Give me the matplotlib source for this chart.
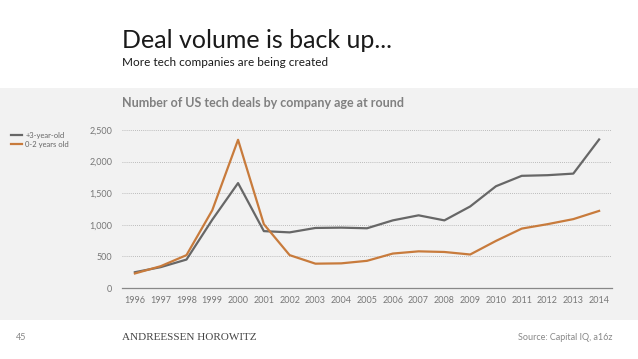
import matplotlib
matplotlib.use('Agg')
from matplotlib import pyplot as plt
from matplotlib.patches import Rectangle
from matplotlib.lines import Line2D

plt.rcParams['font.family'] = ['Lato', 'DejaVu Sans']

years = list(range(1996, 2015))
older = [250, 330, 450, 1080, 1660, 900, 880, 950, 955, 945, 1070, 1150, 1070, 1290, 1610, 1775, 1785, 1810, 2350]
younger = [230, 345, 520, 1230, 2345, 1010, 520, 385, 390, 430, 545, 580, 570, 530, 745, 940, 1010, 1090, 1220]
y_ticks = [0, 500, 1000, 1500, 2000, 2500]
series_labels = ['+3-year-old', '0-2 years old']

W, H = 638, 359
fig = plt.figure(figsize=(W / 100, H / 100), dpi=100)
fig.patch.set_facecolor('white')

# grey background band
fig.patches.append(Rectangle((0, 1 - 320 / H), 1, (320 - 88) / H,
                             transform=fig.transFigure, facecolor='#f2f2f2',
                             edgecolor='none', zorder=-5))

ax = fig.add_axes([122 / W, 1 - 288 / H, (612 - 122) / W, (288 - 130) / H])
ax.set_facecolor('none')

grey = '#676767'
orange = '#c87b3c'
ax.plot(years, older, color=grey, lw=1.6, clip_on=False, zorder=3)
ax.plot(years, younger, color=orange, lw=1.6, clip_on=False, zorder=3)

ax.set_xlim(1995.5, 2014.5)
ax.set_ylim(0, 2500)
ax.set_xticks(years)
ax.set_xticklabels([str(y) for y in years])
ax.set_yticks(y_ticks)
ax.set_yticklabels(['{:,}'.format(v) for v in y_ticks])
ax.tick_params(length=0, labelsize=6.5, colors='#777777', pad=6)
ax.tick_params(axis='y', pad=7)

for v in y_ticks[1:]:
    ax.axhline(v, color='#aaaaaa', lw=0.6, ls=(0, (1, 1.5)), zorder=1)

for s in ['top', 'right', 'left']:
    ax.spines[s].set_visible(False)
ax.spines['bottom'].set_color('#888888')
ax.spines['bottom'].set_linewidth(0.9)

# titles
fig.text(122 / W, 1 - 40 / H, 'Deal volume is back up...', fontsize=18,
         color='#1a1a1a', va='center', ha='left')
fig.text(122 / W, 1 - 63 / H, 'More tech companies are being created', fontsize=8.5,
         color='#1a1a1a', va='center', ha='left')
fig.text(122 / W, 1 - 103 / H, 'Number of US tech deals by company age at round',
         fontsize=9, color='#808080', fontweight='bold', va='center', ha='left')

# legend
handles = [Line2D([], [], color=grey, lw=1.6), Line2D([], [], color=orange, lw=1.6)]
fig.legend(handles, series_labels, loc='upper left',
           bbox_to_anchor=(4 / W, 1 - 125 / H), frameon=False, fontsize=5.5,
           handlelength=1.5, handletextpad=0.4, labelspacing=0.3,
           labelcolor='#666666')

# footer
fig.text(16 / W, 1 - 338 / H, '45', fontsize=6.5, color='#888888', va='center')
fig.text(122 / W, 1 - 337 / H, 'ANDREESSEN HOROWITZ', fontsize=8,
         family='Liberation Serif', color='#444444', va='center')
fig.text(612 / W, 1 - 338 / H, 'Source: Capital IQ, a16z', fontsize=6.5,
         color='#888888', va='center', ha='right')

fig.savefig('out.png', dpi=100)
